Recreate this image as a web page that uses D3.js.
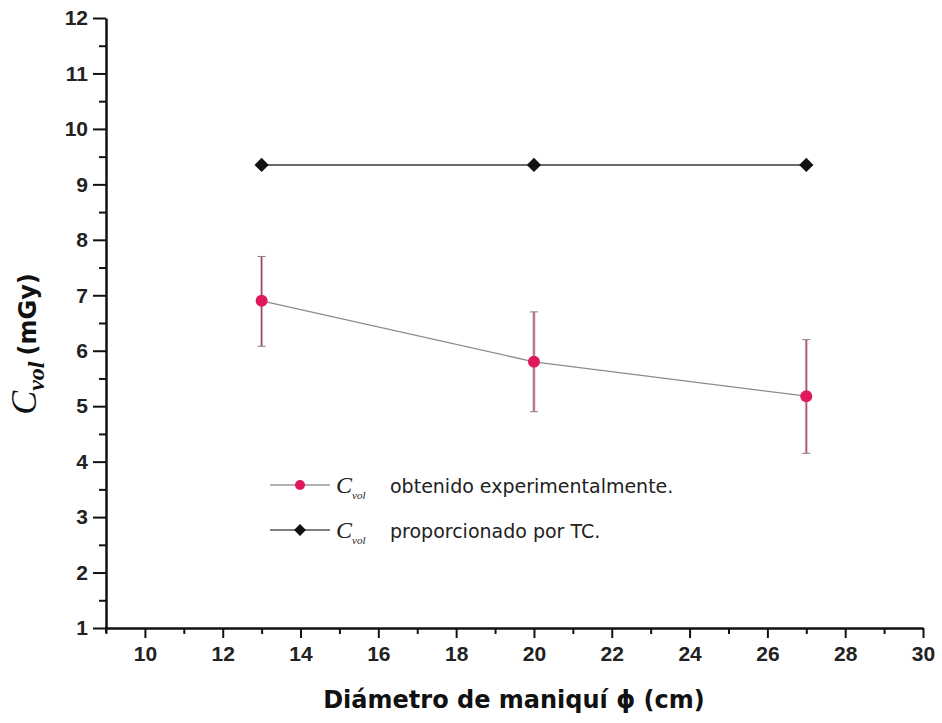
<!DOCTYPE html>
<html>
<head>
<meta charset="utf-8">
<script src="https://cdn.jsdelivr.net/npm/d3@7"></script>
<style>
  html, body { margin: 0; padding: 0; background: #fff; }
  svg { display: block; }
</style>
</head>
<body>
<svg id="chart" width="942" height="723"></svg>
<script>
// Phantom diameters (cm)
const diameters = [13, 20, 27];
// Measured CTDIvol (mGy) with upper / lower error limits
const measured = [6.9, 5.8, 5.18];
const measuredHigh = [7.7, 6.7, 6.2];
const measuredLow = [6.08, 4.9, 4.15];
// CTDIvol reported by the scanner (mGy)
const scanner = [9.35, 9.35, 9.35];

const xTicks = [10, 12, 14, 16, 18, 20, 22, 24, 26, 28, 30];
const yTicks = [1, 2, 3, 4, 5, 6, 7, 8, 9, 10, 11, 12];

const legendLabels = ["obtenido experimentalmente.", "proporcionado por TC."];

const svg = d3.select("#chart");
const margin = { left: 106, right: 19, top: 18, bottom: 95 };
const W = 942, H = 723;

const x = d3.scaleLinear().domain([9, 30]).range([margin.left, W - margin.right]);
const y = d3.scaleLinear().domain([1, 12]).range([H - margin.bottom, margin.top]);

const tickFont = "'Liberation Sans Narrow', 'Liberation Sans', Arial, sans-serif";

// Minor ticks
const g = svg.append("g");
const xMinor = d3.range(9, 31, 1).filter(v => v % 2 === 1);
const yMinor = d3.range(1.5, 12, 1);

g.append("g")
  .attr("transform", `translate(0,${y(1)})`)
  .call(d3.axisBottom(x).tickValues(xMinor).tickSize(6).tickFormat(""))
  .call(a => a.select(".domain").remove())
  .selectAll("line").attr("stroke", "#111").attr("stroke-width", 2);

g.append("g")
  .attr("transform", `translate(${x(9)},0)`)
  .call(d3.axisLeft(y).tickValues(yMinor).tickSize(7).tickFormat(""))
  .call(a => a.select(".domain").remove())
  .selectAll("line").attr("stroke", "#111").attr("stroke-width", 2);

// Major axes
const xAxis = g.append("g")
  .attr("transform", `translate(0,${y(1)})`)
  .call(d3.axisBottom(x).tickValues(xTicks).tickSize(10).tickSizeOuter(0).tickPadding(8));
const yAxis = g.append("g")
  .attr("transform", `translate(${x(9)},0)`)
  .call(d3.axisLeft(y).tickValues(yTicks).tickSize(13).tickSizeOuter(0).tickPadding(5));

[xAxis, yAxis].forEach(a => {
  a.select(".domain").attr("stroke", "#111").attr("stroke-width", 2.5);
  a.selectAll(".tick line").attr("stroke", "#111").attr("stroke-width", 2);
  a.selectAll("text")
    .attr("font-family", tickFont)
    .attr("font-weight", "bold")
    .style("font-size", "21px")
    .attr("fill", "#222");
});
// extend the axis lines to meet at the corner
xAxis.append("line").attr("x1", x(9) - 1).attr("x2", x(9) + 2).attr("stroke", "#111").attr("stroke-width", 2.5);
xAxis.append("line").attr("x1", x(9)).attr("x2", x(9)).attr("y1", 0).attr("y2", 5).attr("stroke", "#111").attr("stroke-width", 2);

// Scanner series: line + diamonds
const scanPts = diameters.map((d, i) => [x(d), y(scanner[i])]);
svg.append("path")
  .attr("d", d3.line()(scanPts))
  .attr("fill", "none").attr("stroke", "#6a6a6a").attr("stroke-width", 2);

const diamond = d3.symbol().type(d3.symbolDiamond2).size(130);
svg.selectAll(".scan").data(diameters).join("path")
  .attr("transform", (d, i) => `translate(${x(d)},${y(scanner[i])})`)
  .attr("d", diamond)
  .attr("fill", "#111");

// Measured series: line, error bars, circles
const measPts = diameters.map((d, i) => [x(d), y(measured[i])]);
svg.append("path")
  .attr("d", d3.line()(measPts))
  .attr("fill", "none").attr("stroke", "#8c8c8c").attr("stroke-width", 1.3);

const err = svg.append("g");
diameters.forEach((d, i) => {
  const cx = x(d);
  err.append("line")
    .attr("x1", cx).attr("x2", cx)
    .attr("y1", y(measuredHigh[i])).attr("y2", y(measuredLow[i]))
    .attr("stroke", "#f0b0c6").attr("stroke-width", 3);
  err.append("line")
    .attr("x1", cx).attr("x2", cx)
    .attr("y1", y(measuredHigh[i])).attr("y2", y(measuredLow[i]))
    .attr("stroke", "#7a4a5e").attr("stroke-width", 1);
  [measuredHigh[i], measuredLow[i]].forEach(v => {
    err.append("line")
      .attr("x1", cx - 4).attr("x2", cx + 4)
      .attr("y1", y(v)).attr("y2", y(v))
      .attr("stroke", "#8a7a80").attr("stroke-width", 1);
  });
});

svg.selectAll(".meas").data(diameters).join("circle")
  .attr("cx", d => x(d))
  .attr("cy", (d, i) => y(measured[i]))
  .attr("r", 6)
  .attr("fill", "#e0195a");

// Legend
const legend = svg.append("g");
const legendRows = [
  { y: 485, color: "#e0195a", shape: "circle", line: "#9a9a9a", label: legendLabels[0] },
  { y: 530, color: "#111", shape: "diamond", line: "#555", label: legendLabels[1] }
];
legendRows.forEach(r => {
  legend.append("line")
    .attr("x1", 270).attr("x2", 330).attr("y1", r.y).attr("y2", r.y)
    .attr("stroke", r.line).attr("stroke-width", 1.5);
  if (r.shape === "circle") {
    legend.append("circle").attr("cx", 300).attr("cy", r.y).attr("r", 5).attr("fill", r.color);
  } else {
    legend.append("path")
      .attr("transform", `translate(300,${r.y})`)
      .attr("d", d3.symbol().type(d3.symbolDiamond2).size(90))
      .attr("fill", r.color);
  }
  const t = legend.append("text")
    .attr("x", 336).attr("y", r.y + 8)
    .attr("font-family", "'DejaVu Sans', Verdana, sans-serif")
    .attr("font-size", 19)
    .attr("fill", "#222");
  t.append("tspan")
    .attr("font-family", "'Liberation Serif', 'Times New Roman', serif")
    .attr("font-style", "italic")
    .attr("font-size", 24)
    .text("C");
  t.append("tspan")
    .attr("font-family", "'Liberation Serif', 'Times New Roman', serif")
    .attr("font-style", "italic")
    .attr("font-size", 11)
    .attr("dy", 6)
    .text("vol");
  t.append("tspan").attr("x", 390).attr("dy", -6).text(r.label);
});

// Axis titles
svg.append("text")
  .attr("x", 514)
  .attr("y", 708)
  .attr("text-anchor", "middle")
  .attr("font-family", "'DejaVu Sans', Verdana, sans-serif")
  .attr("font-weight", "bold")
  .attr("font-size", 24)
  .attr("fill", "#111")
  .text("Diámetro de maniquí \u03d5 (cm)");

const yt = svg.append("text")
  .attr("transform", `translate(36,344) rotate(-90)`)
  .attr("text-anchor", "middle")
  .attr("fill", "#111");
yt.append("tspan")
  .attr("font-family", "'Liberation Serif', 'Times New Roman', serif")
  .attr("font-style", "italic")
  .attr("font-size", 36)
  .text("C");
yt.append("tspan")
  .attr("font-family", "'Liberation Serif', 'Times New Roman', serif")
  .attr("font-style", "italic")
  .attr("font-weight", "bold")
  .attr("font-size", 24)
  .attr("dy", 8)
  .text("vol");
yt.append("tspan")
  .attr("font-family", "'DejaVu Sans', Verdana, sans-serif")
  .attr("font-weight", "bold")
  .attr("font-size", 24)
  .attr("dy", -8)
  .attr("dx", 6)
  .text("(mGy)");
</script>
</body>
</html>
